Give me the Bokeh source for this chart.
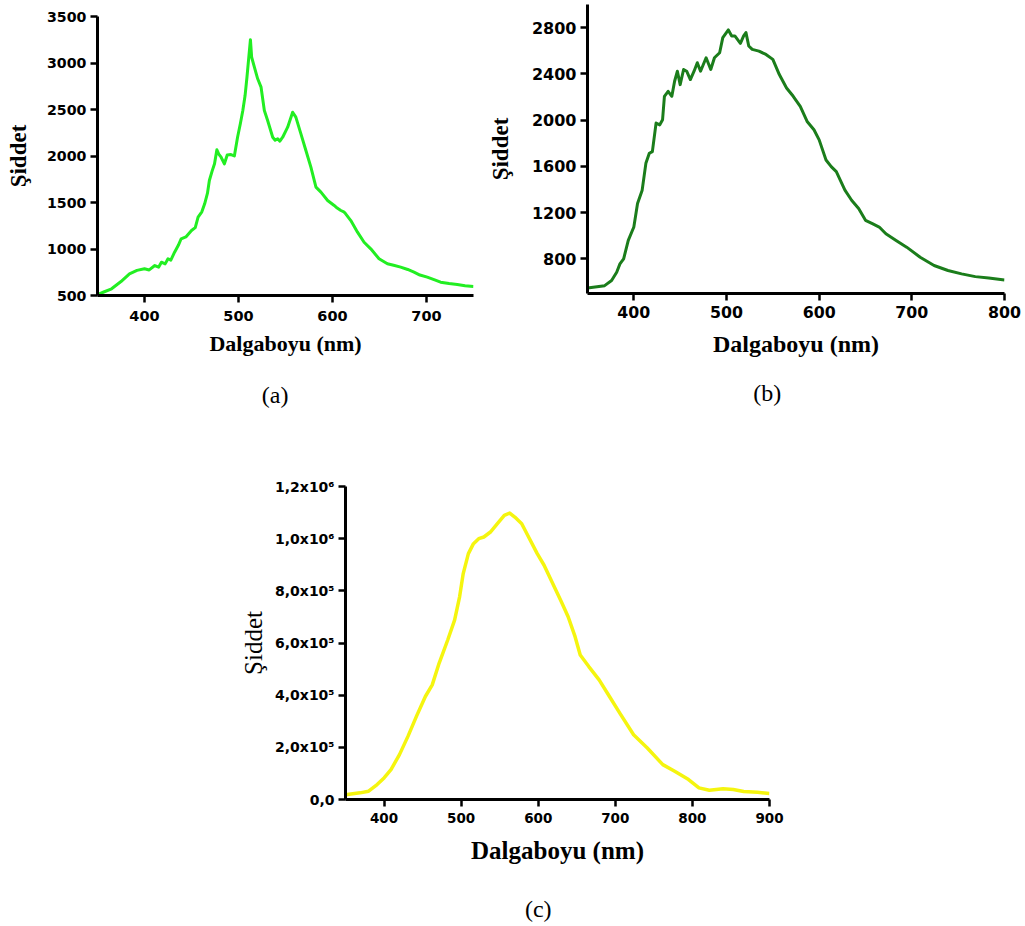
from bokeh.plotting import figure
from bokeh.models import FixedTicker, LinearAxis, Spacer, Range1d
from bokeh.layouts import column, row
from bokeh.embed import file_html
from bokeh.resources import INLINE

# ---------------- data ----------------
a_nm = [350, 356, 365, 375, 384, 392, 400, 405, 411, 415, 418, 422, 425, 428, 432, 436, 439, 444, 450, 454,
        457, 461, 464, 467, 469, 472, 474.5, 477, 479, 481.5, 485, 488, 492, 495.6, 499, 502, 504.6, 507, 509,
        511.6, 512.7, 514, 516.9, 520.4, 524, 527.5, 531, 536.4, 539, 541.7, 544, 547, 552.3, 557.6, 561,
        566.4, 571.7, 577, 582.4, 587.7, 594.8, 601.8, 605, 608.9, 612, 614, 619.5, 626.6, 633.6, 640.7,
        649.5, 658.4, 665, 672.5, 680, 686.7, 693, 700.8, 708, 715, 724, 732.7, 741, 750]
a_int = [510, 535, 572, 650, 733, 770, 787, 775, 822, 805, 858, 840, 895, 880, 966, 1040, 1110, 1130, 1199, 1230,
         1342, 1400, 1486, 1600, 1737, 1840, 1916, 2067, 2020, 1987, 1916, 2010, 2016, 2000, 2202, 2350, 2489,
         2650, 2847, 3134, 3250, 3062, 2955, 2830, 2740, 2489, 2382, 2202, 2170, 2185, 2160, 2202, 2310, 2471,
         2418, 2238, 2059, 1880, 1665, 1611, 1522, 1468, 1440, 1414, 1400, 1378, 1306, 1181, 1073, 1002, 895,
         841, 825, 805, 780, 751, 720, 697, 670, 643, 628, 618, 605, 597]

b_nm = [350, 368.5, 376, 381.5, 385, 389, 394, 400, 404, 409, 413, 416.7, 420, 424, 428, 431, 433, 437, 441, 444,
        447, 450, 453.7, 457, 461, 465, 468.5, 472, 478, 483, 487, 492.6, 496, 502, 505.6, 509, 515, 518.5, 521,
        524, 527.8, 535, 542.6, 550, 557, 564.8, 572, 579.6, 587, 594.4, 600, 607.4, 613, 618.5, 627.8, 635,
        642.6, 650, 657.4, 664.8, 672, 683, 694.4, 709, 724, 739, 753.7, 768.5, 783, 800]
b_int = [548, 568, 612, 684, 756, 800, 959, 1075, 1278, 1394, 1626, 1713, 1727, 1974, 1959, 2003, 2206, 2249,
         2206, 2336, 2423, 2307, 2438, 2423, 2351, 2423, 2496, 2423, 2539, 2438, 2539, 2583, 2713, 2780, 2728,
         2728, 2664, 2728, 2757, 2641, 2612, 2597, 2568, 2525, 2394, 2278, 2206, 2119, 1988, 1916, 1829, 1655,
         1597, 1554, 1394, 1307, 1235, 1133, 1104, 1075, 1017, 959, 901, 814, 742, 699, 670, 646, 635, 617]

c_nm = [350, 368.8, 380, 391, 400, 409, 420, 431, 442, 453.6, 462.5, 471.4, 482.6, 491.5, 498, 502.7, 509.4, 516,
        522.8, 529.5, 538, 547, 556, 563, 569.6, 578.6, 587.5, 598.7, 607.6, 618.8, 630, 638.8, 647.8, 654.5,
        665.6, 679, 692.4, 705.8, 723.7, 741.5, 761.6, 777, 795, 808.5, 822, 839.7, 853, 866.5, 884.4, 900]
c_int = [18000, 25500, 31800, 57300, 82800, 114600, 172000, 242000, 318500, 394900, 439500, 522300, 611500,
         687900, 777100, 866200, 942700, 980900, 1000000, 1006400, 1025500, 1057300, 1089200, 1098100, 1082800,
         1057300, 1006400, 942700, 898100, 828000, 758000, 700600, 624200, 554100, 509600, 458600, 394900,
         331200, 248400, 197500, 133800, 108300, 76400, 44600, 35700, 40800, 38200, 30600, 28000, 22900]

a_xticks = [400, 500, 600, 700]
a_yticks = [500, 1000, 1500, 2000, 2500, 3000, 3500]
b_xticks = [400, 500, 600, 700, 800]
b_yticks = [800, 1200, 1600, 2000, 2400, 2800]
c_xticks = [400, 500, 600, 700, 800, 900]
c_yticks = [0, 200000, 400000, 600000, 800000, 1000000, 1200000]
c_ylabels = ["0,0", "2,0x10\u2075", "4,0x10\u2075", "6,0x10\u2075", "8,0x10\u2075", "1,0x10\u2076", "1,2x10\u2076"]

x_title = "Dalgaboyu (nm)"
y_title = "\u015eiddet"
captions = ["(a)", "(b)", "(c)"]
caption_at_nm = [539, 544, 600]   # wavelength under which each panel caption is centred

TICK_FONT = "DejaVu Sans"
SERIF = "Liberation Serif"


def make_panel(width, height, xr, yr, borders, xticks, yticks, xtick_size, ytick_size,
               xlab_size, ylab_size, ylab_style, ylab_standoff, xtick_standoff, xlab_standoff,
               caption, cap_nm, cap_standoff):
    p = figure(width=width, height=height, x_range=Range1d(*xr), y_range=Range1d(*yr),
               output_backend="svg", toolbar_location=None, title=None,
               min_border_left=borders[0], min_border_right=borders[1],
               min_border_top=borders[2], min_border_bottom=borders[3])
    p.outline_line_color = None
    p.grid.visible = False
    p.background_fill_color = "white"
    p.border_fill_color = "white"
    for ax in (p.xaxis[0], p.yaxis[0]):
        ax.axis_line_width = 3
        ax.axis_line_color = "black"
        ax.major_tick_line_width = 2.5
        ax.major_tick_line_color = "black"
        ax.major_tick_out = 7
        ax.major_tick_in = 0
        ax.minor_tick_line_color = None
        ax.major_label_text_font = TICK_FONT
        ax.major_label_text_font_style = "bold"
        ax.major_label_text_color = "black"
        ax.axis_label_text_font = SERIF
        ax.axis_label_text_color = "black"
    p.xaxis.major_label_text_font_size = xtick_size
    p.yaxis.major_label_text_font_size = ytick_size
    p.xaxis.major_label_standoff = xtick_standoff
    p.yaxis.major_label_standoff = 4
    p.xaxis.ticker = FixedTicker(ticks=xticks)
    p.yaxis.ticker = FixedTicker(ticks=yticks)
    p.xaxis.axis_label = x_title
    p.xaxis.axis_label_text_font_style = "bold"
    p.xaxis.axis_label_text_font_size = xlab_size
    p.xaxis.axis_label_standoff = xlab_standoff
    p.yaxis.axis_label = y_title
    p.yaxis.axis_label_text_font_style = ylab_style
    p.yaxis.axis_label_text_font_size = ylab_size
    p.yaxis.axis_label_standoff = ylab_standoff
    # caption "(a)/(b)/(c)" below the x-axis title
    cap_axis = LinearAxis(ticker=FixedTicker(ticks=[cap_nm]),
                          major_label_overrides={cap_nm: caption},
                          axis_line_color=None, major_tick_line_color=None,
                          minor_tick_line_color=None, major_tick_out=0, major_tick_in=0,
                          major_label_standoff=cap_standoff,
                          major_label_text_font=SERIF, major_label_text_font_style="normal",
                          major_label_text_font_size="24px", major_label_text_color="black")
    p.add_layout(cap_axis, "below")
    return p


pa = make_panel(483, 430, (350, 750), (500, 3500), (97, 10, 16, 135), a_xticks, a_yticks,
                "14.5px", "14.2px", "22px", "23px", "bold", 13, 8, 7, captions[0], caption_at_nm[0], 23)
pa.line(a_nm, a_int, line_color="#22EE22", line_width=3, line_join="round")

pb = make_panel(542, 430, (350, 800), (500, 3000), (104, 21, 4, 137), b_xticks, b_yticks,
                "15.8px", "16px", "24px", "23px", "bold", 16, 5, 10, captions[1], caption_at_nm[1], 20)
pb.line(b_nm, b_int, line_color="#1B7D1B", line_width=3, line_join="round")

pc = make_panel(552, 494, (350, 900), (0, 1200000), (107, 20, 56, 124), c_xticks, c_yticks,
                "13.5px", "14px", "25px", "25px", "normal", 5, 6, 11, captions[2], caption_at_nm[2], 29)
pc.yaxis.major_label_overrides = {t: l for t, l in zip(c_yticks, c_ylabels)}
pc.line(c_nm, c_int, line_color="#F5F50F", line_width=3.5, line_join="round")

layout = column(row(column(pa), column(pb)), row(Spacer(width=237, height=494), column(pc)))

open("out.html", "w").write(file_html(layout, INLINE))
